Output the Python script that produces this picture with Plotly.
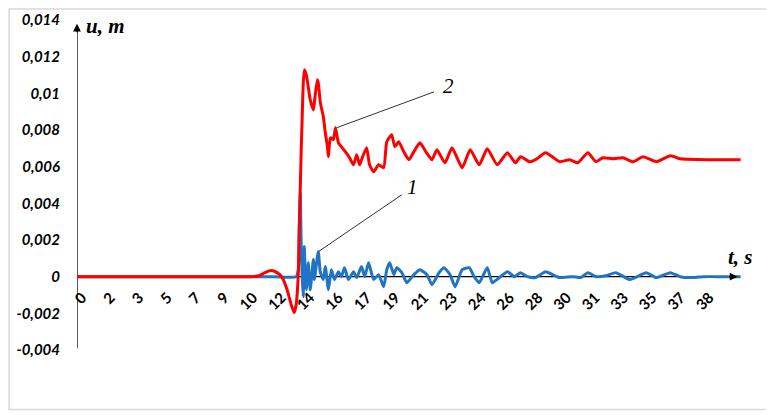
import plotly.graph_objects as go

# curve 1 (blue) and curve 2 (red): time t [s], displacement u [m]
red_t = [0, 3.0, 6.0, 9.0, 10.2, 10.61, 11.10, 11.47, 11.84, 12.21, 12.52, 12.82, 13.07, 13.25,
         13.37, 13.50, 13.56, 13.62, 13.68, 13.74, 13.80, 13.87, 13.99, 14.11,
         14.23, 14.42, 14.48, 14.66, 14.72, 14.85, 15.03, 15.15, 15.28, 15.34,
         15.46, 15.64, 15.77, 15.95, 16.13, 16.38, 16.63, 16.87, 17.06, 17.24,
         17.36, 17.67, 17.85, 18.10, 18.40, 18.71, 18.90, 19.20, 19.39, 19.63,
         19.94, 20.25, 20.55, 20.92, 21.29, 21.66, 21.96, 22.45, 22.88, 23.50,
         23.99, 24.54, 25.03, 25.64, 26.26, 26.75, 27.06, 27.61, 27.98, 28.59,
         29.45, 30.06, 30.55, 31.17, 31.66, 32.09, 32.70, 33.31, 33.93, 34.54,
         35.34, 36.20, 36.81, 38.5, 40.49]
red_u = [0, 0, 0, 0, 0, 0, 0.00005, 0.00022, 0.00033, 0.00022, -0.00005, -0.00071, -0.00153, -0.00196,
         -0.00153, 0.00011, 0.00256, 0.00474, 0.00692, 0.00872, 0.01046, 0.01128, 0.01101, 0.01036,
         0.00965, 0.00910, 0.00948, 0.01074, 0.01057, 0.00948, 0.00872, 0.00785, 0.00709, 0.00654,
         0.00758, 0.00747, 0.00812, 0.00730, 0.00709, 0.00681, 0.00649, 0.00610, 0.00665, 0.00610,
         0.00638, 0.00703, 0.00610, 0.00572, 0.00610, 0.00594, 0.00736, 0.00774, 0.00709, 0.00736,
         0.00681, 0.00638, 0.00681, 0.00730, 0.00681, 0.00638, 0.00692, 0.00621, 0.00703, 0.00594,
         0.00692, 0.00610, 0.00698, 0.00610, 0.00676, 0.00621, 0.00654, 0.00627, 0.00638, 0.00676,
         0.00627, 0.00638, 0.00621, 0.00676, 0.00627, 0.00649, 0.00643, 0.00649, 0.00627, 0.00654,
         0.00627, 0.00659, 0.00643, 0.00638, 0.00638]

blue_t = [0, 6.0, 12.0, 13.37, 13.50, 13.56, 13.62, 13.68, 13.74, 13.80, 13.87, 13.93,
          13.99, 14.11, 14.23, 14.42, 14.48, 14.72, 14.85, 15.03, 15.15, 15.34,
          15.52, 15.71, 15.95, 16.13, 16.32, 16.56, 16.87, 17.06, 17.36, 17.55,
          17.79, 18.10, 18.40, 18.71, 18.90, 19.08, 19.33, 19.51, 19.82, 20.12,
          20.55, 20.92, 21.35, 21.66, 22.09, 22.39, 22.76, 23.07, 23.50, 23.93,
          24.23, 24.54, 25.03, 25.34, 25.77, 26.26, 26.69, 27.06, 27.48, 27.98,
          28.59, 29.02, 29.45, 30.25, 30.74, 31.17, 31.66, 32.27, 32.88, 33.74,
          34.72, 35.34, 36.20, 36.81, 37.61, 38.22, 39.3, 40.49]
blue_u = [0, 0, 0, 0, 0.00038, 0.00256, 0.00458, 0.00164, 0, -0.00109, 0.00164, 0,
          -0.00071, 0.00076, -0.00071, 0.00093, -0.00016, 0.00136, 0.00022, -0.00016, 0.00055, -0.00071,
          0.00038, -0.00016, 0.00027, 0, 0.00049, -0.00016, 0.00027, -0.00005, 0.00055, 0,
          0.00076, -0.00016, 0.00011, -0.00055, 0.00038, 0.00076, 0.00011, 0.00049, 0.00022, -0.00033,
          0.00011, 0.00038, 0.00011, -0.00044, 0.00022, 0.00049, 0.00011, -0.00055, 0.00038, 0.00049,
          0, -0.00033, 0.00049, -0.00033, -0.00005, 0.00027, 0, 0.00022, 0, -0.00005,
          0.00027, 0.00011, -0.00005, 0, -0.00005, 0.00022, 0, 0.00005, 0.00022, -0.00016,
          0.00022, -0.00005, 0.00022, 0, -0.00005, 0, 0, 0]

# category labels shown every 1.74 s
x_ticks = [1.74 * i for i in range(23)]
x_labels = ["0", "2", "3", "5", "7", "9", "10", "12", "14", "16", "17", "19",
            "21", "23", "24", "26", "28", "30", "31", "33", "35", "37", "38"]
y_ticks = [-0.004, -0.002, 0, 0.002, 0.004, 0.006, 0.008, 0.01, 0.012, 0.014]
y_labels = ["-0,004", "-0,002", "0", "0,002", "0,004", "0,006", "0,008", "0,01", "0,012", "0,014"]

fig = go.Figure()
fig.add_trace(go.Scatter(x=blue_t, y=blue_u, mode="lines",
                         line=dict(color="#1f74c4", width=3, shape="spline", smoothing=0.5)))
fig.add_trace(go.Scatter(x=red_t, y=red_u, mode="lines",
                         line=dict(color="#ff0000", width=3, shape="spline", smoothing=0.5)))

# axes lines (below the curves) and arrow heads
fig.add_shape(type="line", xref="x", yref="y", x0=0, y0=-0.0039, x1=0, y1=0.0135,
              line=dict(color="black", width=1.3), layer="below")
fig.add_shape(type="line", xref="x", yref="y", x0=0, y0=0, x1=40.0, y1=0,
              line=dict(color="black", width=1.3), layer="below")
fig.add_annotation(x=0, y=0.0138, xref="x", yref="y", ax=0, ay=10, text="",
                   showarrow=True, arrowhead=2, arrowsize=1.2, arrowwidth=1.3, arrowcolor="black")
fig.add_annotation(x=40.3, y=0, xref="x", yref="y", ax=-10, ay=0, text="",
                   showarrow=True, arrowhead=2, arrowsize=1.2, arrowwidth=1.3, arrowcolor="black")

# leader lines and curve numbers
fig.add_shape(type="line", xref="x", yref="y", x0=15.83, y0=0.00812, x1=21.78, y1=0.01008,
              line=dict(color="#333333", width=1))
fig.add_shape(type="line", xref="x", yref="y", x0=14.72, y0=0.00136, x1=19.82, y1=0.00447,
              line=dict(color="#333333", width=1))
serif = dict(family="Liberation Serif", size=21, color="black", style="italic")
fig.add_annotation(x=22.2, y=0.0104, xref="x", yref="y", text="2", showarrow=False,
                   xanchor="left", font=serif)
fig.add_annotation(x=20.0, y=0.0049, xref="x", yref="y", text="1", showarrow=False,
                   xanchor="left", font=serif)
fig.add_annotation(x=0.45, y=0.0137, xref="x", yref="y", text="<b>u, m</b>", showarrow=False,
                   xanchor="left", font=serif)
fig.add_annotation(x=39.6, y=0.0011, xref="x", yref="y", text="<b>t, s</b>", showarrow=False,
                   xanchor="left", font=serif)

# light frame round the whole picture
fig.add_shape(type="rect", xref="paper", yref="paper", x0=-0.101, y0=-0.18, x1=1.033, y1=1.033,
              line=dict(color="#d9d9d9", width=1.5))

# the page body adds 8px at left/top, so the figure is 8px smaller
fig.update_layout(
    width=766, height=407,
    margin=dict(l=69, r=25, t=12, b=65, autoexpand=False),
    paper_bgcolor="white", plot_bgcolor="white",
    showlegend=False,
    xaxis=dict(range=[0, 41], tickvals=x_ticks, ticktext=x_labels, tickangle=-45,
               showgrid=False, zeroline=False, showline=False, ticks="",
               anchor="free", position=0.2212, ticklabelstandoff=8, ticklabelshift=5,
               tickfont=dict(family="Lato", size=15, color="black", weight="bold")),
    yaxis=dict(range=[-0.004, 0.014], tickvals=y_ticks, ticktext=y_labels,
               showgrid=False, zeroline=False, showline=False, ticks="",
               ticklabelstandoff=16,
               tickfont=dict(family="Lato", size=15, color="black", weight="bold", style="italic")),
)

fig.write_html("out.html")
